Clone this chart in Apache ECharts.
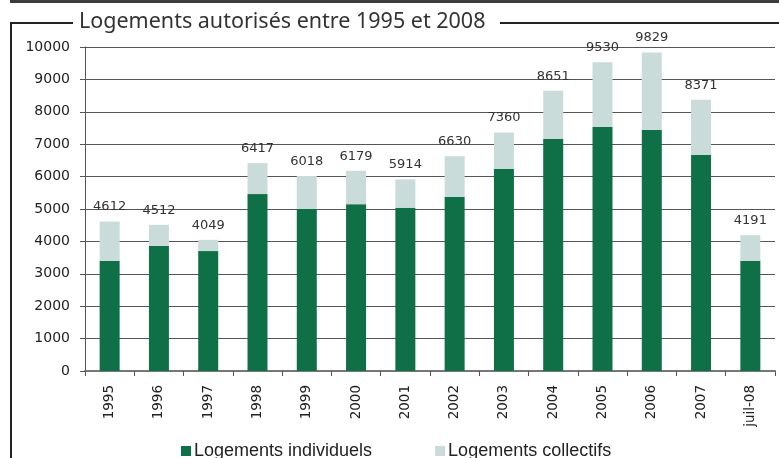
<!DOCTYPE html>
<html>
<head>
<meta charset="utf-8">
<script src="https://cdn.jsdelivr.net/npm/echarts@6/dist/echarts.min.js"></script>
<style>
  html, body { margin: 0; padding: 0; background: #fff; }
  #chart { width: 779px; height: 458px; }
</style>
</head>
<body>
<div id="chart"></div>
<script>
// categories and values
const years = ['1995', '1996', '1997', '1998', '1999', '2000', '2001', '2002', '2003', '2004', '2005', '2006', '2007', 'juil-08']
const individuels = [3400, 3860, 3700, 5460, 5000, 5150, 5040, 5370, 6235, 7160, 7530, 7440, 6670, 3400]
const collectifs = [1212, 652, 349, 957, 1018, 1029, 874, 1260, 1125, 1491, 2000, 2389, 1701, 791]
const totals = [4612, 4512, 4049, 6417, 6018, 6179, 5914, 6630, 7360, 8651, 9530, 9829, 8371, 4191]
const yTicks = [0, 1000, 2000, 3000, 4000, 5000, 6000, 7000, 8000, 9000, 10000]

const chart = echarts.init(document.getElementById('chart'))
chart.setOption({
  animation: false,
  textStyle: { fontFamily: 'DejaVu Sans' },
  title: {
    text: 'Logements autorisés entre 1995 et 2008',
    left: 79,
    top: 11,
    padding: 0,
    textStyle: { fontSize: 21.5, fontWeight: 'normal', color: '#333', fontFamily: 'Noto Sans' }
  },
  graphic: [
    { type: 'rect', shape: { x: 10, y: 0, width: 769, height: 3 }, style: { fill: '#3c3c3c' } },
    { type: 'line', shape: { x1: 11, y1: 23, x2: 11, y2: 458 }, style: { stroke: '#222', lineWidth: 2 } },
    { type: 'line', shape: { x1: 10, y1: 23, x2: 73, y2: 23 }, style: { stroke: '#222', lineWidth: 2 } },
    { type: 'line', shape: { x1: 500, y1: 23, x2: 779, y2: 23 }, style: { stroke: '#222', lineWidth: 2 } }
  ],
  legend: {
    left: 176,
    top: 437,
    itemWidth: 10,
    itemHeight: 10,
    itemGap: 63,
    icon: 'rect',
    textStyle: { fontSize: 18, color: '#222', fontFamily: 'Liberation Sans', padding: [0, 0, 0, -2] },
    data: ['Logements individuels', 'Logements collectifs']
  },
  grid: {
    left: 85,
    right: 4,
    top: 47,
    bottom: 87,
    containLabel: false
  },
  xAxis: {
    type: 'category',
    data: years,
    axisLine: { lineStyle: { color: '#777', width: 2 } },
    axisTick: { show: true, length: 5, lineStyle: { color: '#555' } },
    axisLabel: { rotate: 90, fontSize: 13.5, color: '#222', margin: 14, interval: 0 }
  },
  yAxis: {
    type: 'value',
    min: yTicks[0],
    max: yTicks[yTicks.length - 1],
    interval: 1000,
    axisLine: { show: true, lineStyle: { color: '#555' } },
    axisTick: { show: true, length: 5, lineStyle: { color: '#555' } },
    axisLabel: { fontSize: 14, color: '#222', margin: 15, formatter: v => String(v) },
    splitLine: { lineStyle: { color: '#555' } }
  },
  series: [
    {
      name: 'Logements individuels',
      type: 'bar',
      stack: 'total',
      barWidth: 20,
      itemStyle: { color: '#0f7048' },
      data: individuels
    },
    {
      name: 'Logements collectifs',
      type: 'bar',
      stack: 'total',
      barWidth: 20,
      itemStyle: { color: '#c9dcd9' },
      label: {
        show: true,
        position: 'top',
        distance: 8,
        fontSize: 13,
        color: '#333',
        formatter: p => totals[p.dataIndex]
      },
      data: collectifs
    }
  ]
})
</script>
</body>
</html>
